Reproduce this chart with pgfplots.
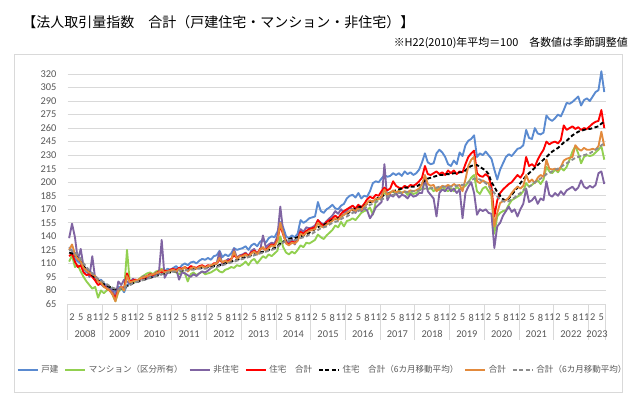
\documentclass[border=0pt]{standalone}
\usepackage{fontspec}
\setmainfont{Carlito}
\newfontfamily\jp{Noto Sans CJK JP}
\usepackage{pgfplots}
\usepackage{pgfplotstable}
\pgfplotsset{compat=1.18}
\definecolor{cB}{HTML}{5A8AD0}
\definecolor{cG}{HTML}{92D050}
\definecolor{cP}{HTML}{8064A2}
\definecolor{cR}{HTML}{FF0000}
\definecolor{cO}{HTML}{E38A3C}
\definecolor{cA}{HTML}{8C8C8C}
\definecolor{gridc}{HTML}{D9D9D9}
\definecolor{tickc}{HTML}{595959}
\definecolor{framec}{HTML}{D9D9D9}

% 戸建
\pgfplotstableread[row sep=\\]{y\\
128\\124\\115\\112\\110\\104\\100\\102\\98\\95\\90\\92\\
88\\85\\83\\82\\78\\84\\83\\78\\86\\88\\90\\91\\
92\\94\\93\\96\\97\\95\\98\\100\\102\\101\\104\\103\\
105\\107\\104\\108\\110\\108\\111\\112\\110\\113\\115\\114\\
116\\114\\118\\119\\124\\117\\120\\118\\121\\127\\125\\126\\
127\\129\\125\\130\\132\\129\\134\\136\\133\\138\\140\\139\\
145\\156\\150\\140\\138\\141\\139\\143\\158\\155\\157\\160\\
161\\162\\178\\168\\166\\170\\172\\175\\171\\170\\174\\176\\
182\\185\\186\\183\\188\\182\\185\\184\\190\\199\\201\\200\\
204\\208\\206\\207\\210\\208\\210\\207\\212\\209\\211\\208\\
210\\214\\222\\232\\222\\220\\221\\232\\236\\233\\228\\220\\
218\\224\\220\\233\\229\\241\\246\\248\\252\\228\\232\\230\\
234\\230\\226\\214\\203\\214\\221\\228\\231\\229\\233\\237\\
238\\241\\258\\249\\248\\260\\254\\253\\255\\274\\270\\268\\
271\\275\\273\\280\\288\\287\\289\\292\\295\\285\\291\\293\\
290\\295\\300\\302\\323\\300\\
}\tB
% マンション
\pgfplotstableread[row sep=\\]{y\\
112\\119\\106\\108\\101\\95\\90\\86\\82\\84\\72\\80\\
77\\80\\84\\75\\68\\78\\82\\80\\125\\88\\89\\90\\
92\\95\\97\\99\\100\\98\\101\\102\\104\\100\\102\\101\\
102\\100\\98\\101\\99\\90\\98\\100\\97\\99\\101\\98\\
99\\100\\102\\104\\101\\100\\103\\104\\106\\105\\108\\107\\
109\\112\\108\\113\\115\\110\\114\\118\\116\\120\\118\\121\\
124\\140\\128\\122\\120\\123\\121\\125\\130\\128\\133\\132\\
134\\136\\142\\139\\137\\141\\144\\147\\152\\150\\156\\151\\
157\\158\\160\\158\\162\\166\\168\\169\\172\\164\\178\\182\\
184\\188\\186\\189\\190\\187\\191\\188\\190\\186\\189\\187\\
188\\191\\193\\200\\192\\194\\190\\193\\191\\195\\192\\190\\
193\\190\\195\\192\\194\\196\\200\\205\\208\\190\\187\\193\\
195\\190\\185\\143\\162\\166\\168\\169\\175\\180\\182\\184\\
186\\190\\199\\195\\197\\200\\202\\198\\203\\217\\212\\210\\
214\\211\\216\\213\\217\\225\\234\\240\\232\\221\\228\\230\\
229\\230\\233\\236\\240\\225\\
}\tG
% 非住宅
\pgfplotstableread[row sep=\\]{y\\
138\\154\\139\\114\\126\\106\\104\\95\\118\\93\\91\\87\\
84\\86\\82\\80\\72\\90\\86\\92\\90\\88\\93\\91\\
90\\94\\96\\93\\98\\95\\100\\98\\136\\94\\100\\103\\
101\\104\\92\\100\\99\\97\\95\\98\\96\\99\\101\\100\\
102\\105\\108\\110\\123\\108\\112\\115\\113\\126\\116\\119\\
120\\122\\118\\124\\126\\120\\124\\141\\128\\131\\133\\132\\
140\\173\\145\\135\\133\\137\\131\\138\\148\\145\\150\\149\\
150\\152\\158\\155\\153\\157\\160\\163\\168\\165\\170\\166\\
168\\172\\170\\166\\173\\168\\171\\169\\160\\165\\172\\175\\
178\\220\\180\\186\\184\\188\\183\\186\\185\\182\\187\\184\\
185\\188\\188\\204\\190\\186\\182\\162\\188\\192\\190\\195\\
190\\193\\188\\192\\160\\188\\195\\200\\188\\164\\170\\168\\
170\\166\\165\\127\\151\\155\\163\\168\\173\\167\\170\\162\\
170\\176\\193\\178\\180\\184\\176\\182\\180\\201\\186\\184\\
188\\185\\190\\186\\191\\193\\195\\191\\194\\202\\195\\193\\
196\\194\\197\\210\\212\\198\\
}\tP
% 住宅 合計
\pgfplotstableread[row sep=\\]{y\\
118\\121\\112\\106\\108\\100\\97\\98\\95\\91\\86\\88\\
85\\82\\80\\76\\72\\80\\84\\82\\99\\90\\91\\92\\
91\\94\\93\\96\\98\\97\\99\\101\\100\\102\\101\\103\\
104\\102\\105\\104\\106\\104\\107\\106\\105\\107\\108\\106\\
108\\107\\110\\110\\114\\111\\113\\112\\115\\119\\116\\118\\
119\\121\\118\\122\\124\\121\\126\\127\\125\\128\\131\\130\\
136\\152\\142\\133\\131\\134\\133\\136\\145\\143\\146\\148\\
149\\150\\158\\154\\152\\156\\158\\160\\163\\160\\165\\168\\
170\\172\\174\\171\\175\\172\\176\\181\\184\\182\\186\\185\\
190\\194\\191\\193\\201\\196\\194\\193\\196\\194\\197\\196\\
198\\201\\205\\218\\209\\208\\210\\212\\209\\211\\208\\213\\
210\\213\\209\\212\\211\\220\\228\\232\\235\\210\\207\\206\\
209\\206\\195\\162\\180\\188\\192\\195\\198\\200\\204\\208\\
205\\210\\228\\218\\220\\217\\225\\231\\236\\245\\242\\244\\
245\\243\\247\\263\\258\\260\\262\\259\\261\\258\\260\\259\\
262\\265\\267\\268\\280\\260\\
}\tR
% 住宅 合計 6カ月移動平均
\pgfplotstableread[row sep=\\]{y\\
122\\121\\119\\116\\112\\107\\103\\100\\97\\94\\91\\89\\
87\\85\\84\\82\\81\\81\\82\\83\\85\\86\\88\\89\\
90\\91\\92\\93\\94\\95\\96\\97\\98\\99\\100\\100\\
101\\101\\102\\102\\103\\103\\104\\104\\104\\105\\105\\105\\
106\\106\\107\\107\\108\\109\\110\\111\\112\\113\\114\\115\\
116\\117\\118\\119\\120\\121\\122\\123\\124\\125\\126\\127\\
129\\132\\134\\136\\137\\138\\138\\139\\140\\141\\142\\144\\
146\\148\\150\\152\\153\\154\\156\\158\\159\\160\\162\\164\\
165\\167\\169\\171\\172\\173\\174\\176\\178\\179\\181\\183\\
184\\186\\187\\188\\190\\191\\192\\193\\194\\194\\195\\195\\
195\\197\\199\\202\\204\\205\\206\\207\\208\\208\\209\\209\\
209\\210\\210\\211\\211\\213\\216\\218\\219\\219\\217\\215\\
213\\209\\200\\195\\189\\185\\181\\180\\182\\186\\190\\194\\
199\\203\\207\\210\\213\\216\\219\\222\\225\\228\\231\\234\\
236\\238\\241\\244\\246\\249\\252\\254\\256\\257\\258\\259\\
259\\260\\261\\262\\265\\267\\
}\tK
% 合計
\pgfplotstableread[row sep=\\]{y\\
125\\131\\120\\115\\112\\105\\102\\100\\98\\96\\90\\89\\
84\\82\\80\\76\\68\\80\\84\\80\\96\\89\\90\\91\\
92\\94\\95\\96\\97\\98\\99\\100\\103\\100\\101\\102\\
103\\101\\104\\103\\106\\101\\104\\106\\104\\106\\107\\105\\
107\\108\\109\\110\\116\\111\\113\\111\\114\\123\\115\\118\\
118\\120\\117\\121\\123\\120\\125\\128\\124\\127\\130\\129\\
135\\155\\143\\132\\130\\133\\132\\135\\143\\141\\144\\146\\
147\\148\\155\\151\\150\\153\\155\\157\\160\\158\\162\\164\\
166\\168\\170\\168\\171\\169\\173\\177\\180\\178\\182\\181\\
184\\192\\186\\188\\191\\189\\190\\188\\190\\189\\191\\190\\
191\\193\\198\\208\\198\\196\\197\\190\\193\\196\\195\\197\\
195\\198\\196\\197\\190\\203\\218\\225\\228\\201\\199\\202\\
200\\199\\188\\151\\166\\177\\179\\180\\183\\188\\192\\195\\
193\\196\\208\\200\\203\\199\\205\\208\\206\\225\\215\\214\\
215\\213\\217\\224\\226\\227\\228\\241\\237\\235\\238\\236\\
236\\237\\236\\240\\256\\240\\
}\tO
% 合計 6カ月移動平均
\pgfplotstableread[row sep=\\]{y\\
125\\124\\122\\119\\115\\110\\106\\102\\99\\96\\93\\91\\
89\\87\\85\\83\\82\\81\\82\\83\\85\\86\\88\\89\\
90\\91\\92\\93\\94\\95\\96\\97\\98\\99\\100\\100\\
101\\101\\102\\102\\102\\103\\103\\103\\104\\104\\104\\104\\
105\\105\\106\\106\\107\\108\\109\\110\\111\\112\\113\\114\\
115\\116\\117\\118\\119\\120\\121\\122\\123\\124\\125\\126\\
128\\131\\133\\135\\136\\136\\136\\137\\138\\139\\140\\142\\
143\\145\\147\\149\\150\\151\\153\\155\\156\\157\\159\\161\\
162\\164\\166\\167\\168\\170\\171\\173\\175\\176\\178\\179\\
181\\182\\184\\185\\186\\187\\188\\188\\189\\189\\190\\190\\
190\\191\\192\\193\\193\\193\\194\\194\\195\\195\\195\\195\\
195\\196\\196\\197\\197\\198\\200\\202\\204\\204\\203\\201\\
199\\196\\192\\188\\184\\181\\179\\178\\179\\181\\183\\186\\
188\\191\\193\\195\\197\\200\\202\\204\\206\\209\\210\\212\\
214\\215\\217\\219\\221\\223\\225\\227\\228\\229\\230\\231\\
232\\234\\236\\238\\241\\243\\
}\tA

\begin{document}
\begin{tikzpicture}[x=1pt,y=1pt]
\fill[white] (0,0) rectangle (480,299.25);
\draw[draw=framec, line width=0.6pt] (10.5,5.25) rectangle (466.5,258.75);
\node[anchor=west, inner sep=0pt, font=\jp\fontsize{10.5}{12}\selectfont] at (16.5,282.75) {【法人取引量指数　合計（戸建住宅・マンション・非住宅）】};
\node[anchor=east, inner sep=0pt, font=\jp\fontsize{8.2}{10}\selectfont] at (471,267) {※H22(2010)年平均＝100　各数値は季節調整値};
\begin{axis}[
  at={(50.78pt,71.25pt)}, anchor=south west,
  scale only axis, width=403.5pt, height=175.9pt,
  xmin=-0.5, xmax=185.5, ymin=65, ymax=325,
  clip mode=individual,
  axis line style={draw=none},
  major tick length=0pt,
  xtick pos=bottom, ytick pos=left,
  ytick={65,80,...,320},
  ymajorgrids, grid style={line width=0.6pt, draw=gridc},
  xtick={1,4,...,184},
  xticklabels={2,5,8,11,2,5,8,11,2,5,8,11,2,5,8,11,2,5,8,11,2,5,8,11,2,5,8,11,2,5,8,11,2,5,8,11,2,5,8,11,2,5,8,11,2,5,8,11,2,5,8,11,2,5,8,11,2,5,8,11,2,5},
  extra x ticks={-0.5,11.5,23.5,35.5,47.5,59.5,71.5,83.5,95.5,107.5,119.5,131.5,143.5,155.5,167.5,179.5,185.5},
  extra x tick labels={},
  extra x tick style={major tick length=27pt, tick align=outside, tick style={draw=gridc, line width=0.6pt}, xmajorgrids=false},
  /pgf/number format/assume math mode=true,
  tick label style={font=\fontsize{7.8}{9}\selectfont, text=tickc},
  yticklabel style={xshift=-5pt},
  xticklabel style={yshift=-4pt},
  every axis plot/.append style={line width=1.4pt, line join=round},
  legend columns=7,
  legend style={at={(0.4745,-0.2815)}, anchor=center, draw=none, fill=none,
    font=\jp\fontsize{6.4}{8}\selectfont, text=tickc,
    /tikz/every even column/.append style={column sep=2.5pt}},
  legend image code/.code={\draw[#1] (0pt,0pt) -- (15pt,0pt);},
]
\addplot[cB] table[x expr=\coordindex, y=y] {\tB};
\addlegendentry{戸建}
\addplot[cG] table[x expr=\coordindex, y=y] {\tG};
\addlegendentry{マンション（区分所有）}
\addplot[cP] table[x expr=\coordindex, y=y] {\tP};
\addlegendentry{非住宅}
\addplot[cR] table[x expr=\coordindex, y=y] {\tR};
\addlegendentry{住宅　合計}
\addplot[black, dash pattern=on 3pt off 1.8pt] table[x expr=\coordindex, y=y] {\tK};
\addlegendentry{住宅　合計（6カ月移動平均）}
\addplot[cO] table[x expr=\coordindex, y=y] {\tO};
\addlegendentry{合計}
\addplot[cA, dash pattern=on 3pt off 1.8pt] table[x expr=\coordindex, y=y] {\tA};
\addlegendentry{合計（6カ月移動平均）}
\tikzset{yl/.style={font=\fontsize{7.8}{9}\selectfont, text=tickc, yshift=-22.5pt}}
\node[yl] at (axis cs:5.5,65) {2008};
\node[yl] at (axis cs:17.5,65) {2009};
\node[yl] at (axis cs:29.5,65) {2010};
\node[yl] at (axis cs:41.5,65) {2011};
\node[yl] at (axis cs:53.5,65) {2012};
\node[yl] at (axis cs:65.5,65) {2013};
\node[yl] at (axis cs:77.5,65) {2014};
\node[yl] at (axis cs:89.5,65) {2015};
\node[yl] at (axis cs:101.5,65) {2016};
\node[yl] at (axis cs:113.5,65) {2017};
\node[yl] at (axis cs:125.5,65) {2018};
\node[yl] at (axis cs:137.5,65) {2019};
\node[yl] at (axis cs:149.5,65) {2020};
\node[yl] at (axis cs:161.5,65) {2021};
\node[yl] at (axis cs:173.5,65) {2022};
\node[yl] at (axis cs:182.5,65) {2023};
\end{axis}
\pgfresetboundingbox
\path (0,0) rectangle (480,299.25);
\end{tikzpicture}
\end{document}
